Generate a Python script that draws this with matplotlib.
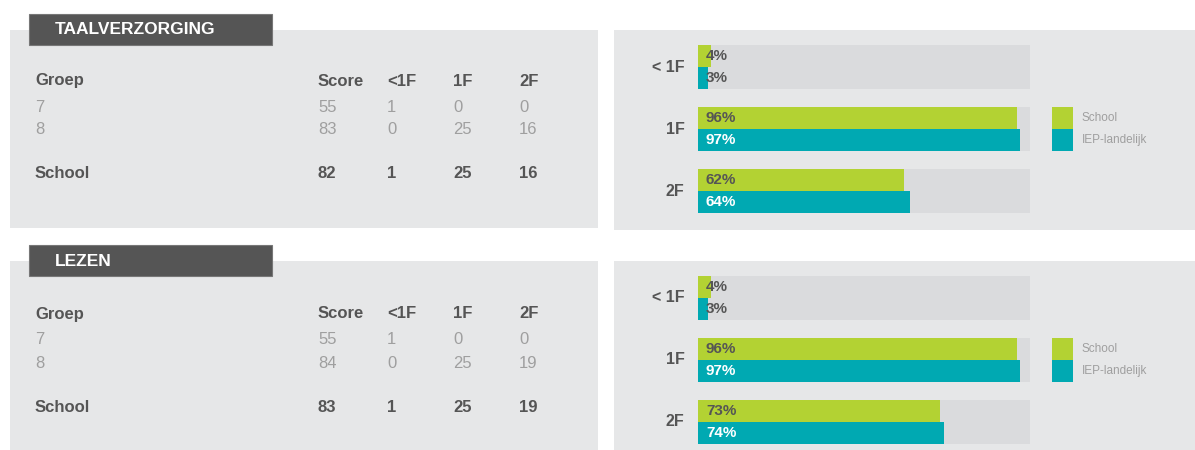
import matplotlib
matplotlib.use("Agg")
import matplotlib.pyplot as plt
import matplotlib.patches as patches

plt.rcParams['font.family'] = ['Liberation Sans Narrow', 'Liberation Sans', 'DejaVu Sans']

# data
sections = ["TAALVERZORGING", "LEZEN"]
columns = ["Score", "<1F", "1F", "2F"]
groups = ["7", "8"]
taal_rows = [[55, 1, 0, 0], [83, 0, 25, 16]]
taal_school = [82, 1, 25, 16]
lezen_rows = [[55, 1, 0, 0], [84, 0, 25, 19]]
lezen_school = [83, 1, 25, 19]
levels = ["< 1F", "1F", "2F"]
taal_pct_school = [4, 96, 62]
taal_pct_iep = [3, 97, 64]
lezen_pct_school = [4, 96, 73]
lezen_pct_iep = [3, 97, 74]
legend_labels = ["School", "IEP-landelijk"]

W, H = 1195, 450
GREEN = "#b3d233"
TEAL = "#00a9b2"
PANEL = "#e6e7e8"
TRACK = "#dadbdd"
DARK = "#555555"
LIGHT = "#9f9f9f"

fig = plt.figure(figsize=(W / 100, H / 100), dpi=100)
fig.patch.set_facecolor("white")
bg = fig.add_axes([0, 0, 1, 1])
bg.set_xlim(0, W)
bg.set_ylim(H, 0)
bg.axis("off")


def px_rect(x0, y0, x1, y1):
    return [x0 / W, 1 - y1 / H, (x1 - x0) / W, (y1 - y0) / H]


def draw_section(top, title, rows, school, pct_school, pct_iep, dy=0):
    # panels
    bg.add_patch(patches.Rectangle((10, top + 16), 588, 198, color=PANEL, lw=0))
    bg.add_patch(patches.Rectangle((614, top + 16), 581, 200, color=PANEL, lw=0))
    bg.add_patch(patches.Rectangle((29, top), 243, 31, facecolor=DARK,
                                   edgecolor="#777777", lw=0.8))
    bg.text(55, top + 16, title, color="white", fontsize=12.5, fontweight="bold",
            va="center", ha="left")

    # table
    xcols = [318, 387, 453, 519]
    yh = top + 67 + dy
    bg.text(35, yh, "Groep", color=DARK, fontsize=12, fontweight="bold", va="center")
    for c, x in zip(columns, xcols):
        bg.text(x, yh, c, color=DARK, fontsize=12, fontweight="bold", va="center")
    for i, (g, r) in enumerate(zip(groups, rows)):
        y = yh + 26 + i * 23
        bg.text(35, y, g, color=LIGHT, fontsize=12, va="center")
        for v, x in zip(r, xcols):
            bg.text(x, y, str(v), color=LIGHT, fontsize=12, va="center")
    ys = yh + 93
    bg.text(35, ys, "School", color=DARK, fontsize=12, fontweight="bold", va="center")
    for v, x in zip(school, xcols):
        bg.text(x, ys, str(v), color=DARK, fontsize=12, fontweight="bold", va="center")

    # bars
    ax = fig.add_axes(px_rect(698, top + 22, 1030, top + 208))
    ax.set_xlim(0, 100)
    ax.set_ylim(len(levels) - 0.5, -0.5)
    ax.axis("off")
    pos = list(range(len(levels)))
    bh = 0.355
    ax.barh(pos, [100] * len(levels), height=2 * bh, color=TRACK, lw=0)
    ax.barh([p - bh / 2 for p in pos], pct_school, height=bh, color=GREEN, lw=0)
    ax.barh([p + bh / 2 for p in pos], pct_iep, height=bh, color=TEAL, lw=0)
    for p, lab, vs, vi in zip(pos, levels, pct_school, pct_iep):
        ax.text(2.4, p - bh / 2, f"{vs}%", color=DARK, fontsize=11,
                fontweight="bold", va="center")
        ax.text(2.4, p + bh / 2, f"{vi}%", color="white" if vi > 10 else DARK,
                fontsize=11, fontweight="bold", va="center")
        ax.text(-4, p, lab, color=DARK, fontsize=11.5, fontweight="bold",
                va="center", ha="right")

    # legend
    ly = top + 93
    bg.add_patch(patches.Rectangle((1052, ly), 21, 22, color=GREEN, lw=0))
    bg.add_patch(patches.Rectangle((1052, ly + 22), 21, 22, color=TEAL, lw=0))
    for k, lab in enumerate(legend_labels):
        bg.text(1082, ly + 11 + k * 22, lab, color=LIGHT, fontsize=8.5, va="center")


draw_section(14, sections[0], taal_rows, taal_school, taal_pct_school, taal_pct_iep)
draw_section(245, sections[1], lezen_rows, lezen_school, lezen_pct_school, lezen_pct_iep, dy=2)

fig.savefig("out.png", dpi=100, facecolor="white")
